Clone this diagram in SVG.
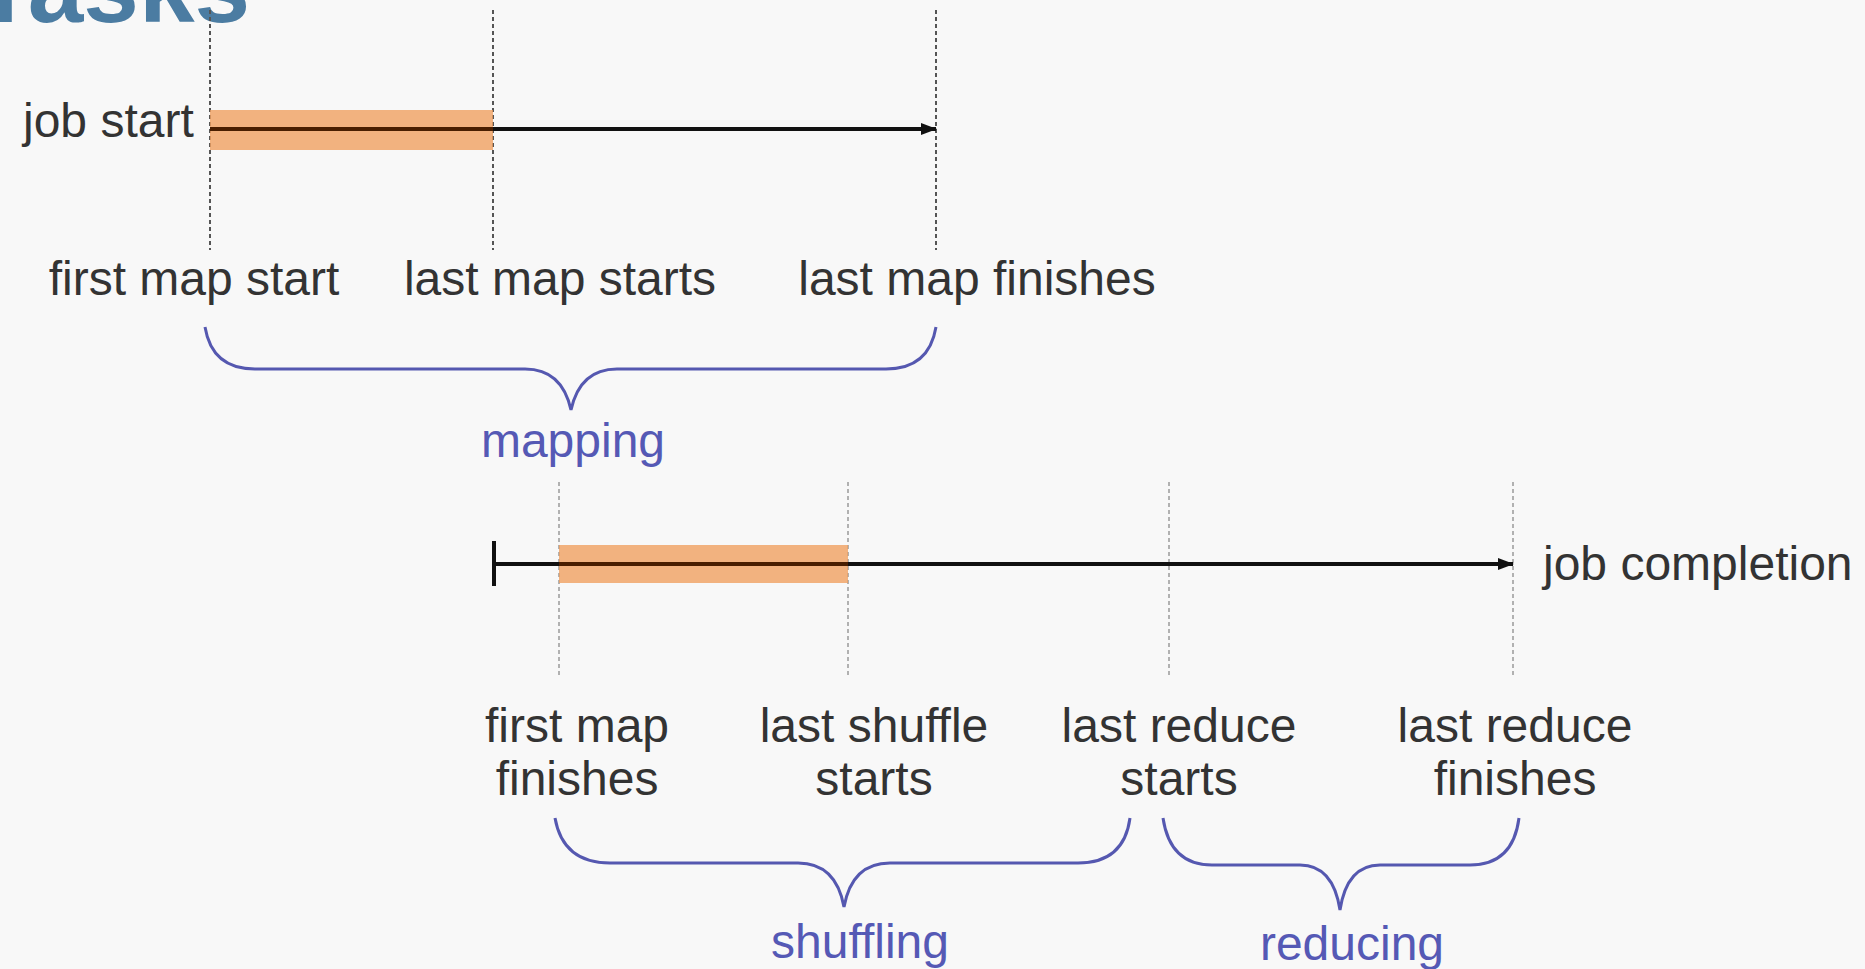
<svg xmlns="http://www.w3.org/2000/svg" width="1865" height="969" viewBox="0 0 1865 969">
<defs>
<marker id="arr" markerWidth="16" markerHeight="14" refX="15" refY="7" orient="auto" markerUnits="userSpaceOnUse">
<path d="M0,1 L16,7 L0,13 Z" fill="#111"/>
</marker>
<style>
.lbl{font-family:"Liberation Sans",Arial,sans-serif;font-size:48px;fill:#333;}
.ph{font-family:"Liberation Sans",Arial,sans-serif;font-size:48px;fill:#5559b5;}
.dash1{stroke:#555;stroke-width:2;stroke-dasharray:4 3;fill:none;}
.dash2{stroke:#999;stroke-width:1.5;stroke-dasharray:4 3;fill:none;}
.tl{stroke:#111;stroke-width:4;fill:none;}
.bar{fill:#f0a060;opacity:0.8;}
.core{stroke:#4a1e00;stroke-width:4;fill:none;}
.brace{stroke:#5558b0;stroke-width:3;fill:none;}
</style>
</defs>
<rect width="1865" height="969" fill="#f8f8f8"/>
<text x="-26" y="22" style="font-family:'Liberation Sans',Arial,sans-serif;font-size:100px;font-weight:bold;fill:#4b7ca2">Tasks</text>

<g id="guides">
<line class="dash1" x1="210" y1="10" x2="210" y2="250"/>
<line class="dash1" x1="493" y1="10" x2="493" y2="250"/>
<line class="dash1" x1="936" y1="10" x2="936" y2="250"/>
<line class="dash2" x1="559" y1="482" x2="559" y2="678"/>
<line class="dash2" x1="848" y1="482" x2="848" y2="678"/>
<line class="dash2" x1="1169" y1="482" x2="1169" y2="678"/>
<line class="dash2" x1="1513" y1="482" x2="1513" y2="678"/>
</g>

<g id="bar-map">
<rect class="bar" x="210" y="110" width="283" height="40"/>
</g>
<g id="bar-shuffle">
<rect class="bar" x="559" y="545" width="289" height="38"/>
</g>

<g id="connectors">
<line class="tl" x1="210" y1="129" x2="936" y2="129" marker-end="url(#arr)"/>
<line class="core" x1="210" y1="129" x2="493" y2="129"/>
<line class="tl" x1="494" y1="564" x2="1513" y2="564" marker-end="url(#arr)"/>
<line class="core" x1="559" y1="564" x2="848" y2="564"/>
<line class="tl" x1="494" y1="541" x2="494" y2="586"/>
</g>

<g id="job-start"><text class="lbl" x="23" y="137">job start</text></g>
<g id="first-map-start"><text class="lbl" x="194" y="295" text-anchor="middle">first map start</text></g>
<g id="last-map-starts"><text class="lbl" x="560" y="295" text-anchor="middle">last map starts</text></g>
<g id="last-map-finishes"><text class="lbl" x="977" y="295" text-anchor="middle">last map finishes</text></g>

<g id="mapping">
<path class="brace" d="M205,327 Q212,369 255,369 L525,369 Q562,369 571,410 Q580,369 617,369 L886,369 Q929,369 936,327"/>
<text class="ph" x="573" y="457" text-anchor="middle">mapping</text>
</g>

<g id="job-completion"><text class="lbl" x="1543" y="580">job completion</text></g>
<g id="first-map-finishes"><text class="lbl" x="577" y="742" text-anchor="middle">first map</text><text class="lbl" x="577" y="795" text-anchor="middle">finishes</text></g>
<g id="last-shuffle-starts"><text class="lbl" x="874" y="742" text-anchor="middle">last shuffle</text><text class="lbl" x="874" y="795" text-anchor="middle">starts</text></g>
<g id="last-reduce-starts"><text class="lbl" x="1179" y="742" text-anchor="middle">last reduce</text><text class="lbl" x="1179" y="795" text-anchor="middle">starts</text></g>
<g id="last-reduce-finishes"><text class="lbl" x="1515" y="742" text-anchor="middle">last reduce</text><text class="lbl" x="1515" y="795" text-anchor="middle">finishes</text></g>

<g id="shuffling">
<path class="brace" d="M555,818 Q563,863 610,863 L798,863 Q836,863 844,907 Q852,863 890,863 L1078,863 Q1124,863 1130,818"/>
<text class="ph" x="860" y="958" text-anchor="middle">shuffling</text>
</g>
<g id="reducing">
<path class="brace" d="M1163,818 Q1170,865 1212,865 L1300,865 Q1333,865 1340,910 Q1347,865 1380,865 L1470,865 Q1513,865 1519,818"/>
<text class="ph" x="1352" y="960" text-anchor="middle">reducing</text>
</g>
</svg>
